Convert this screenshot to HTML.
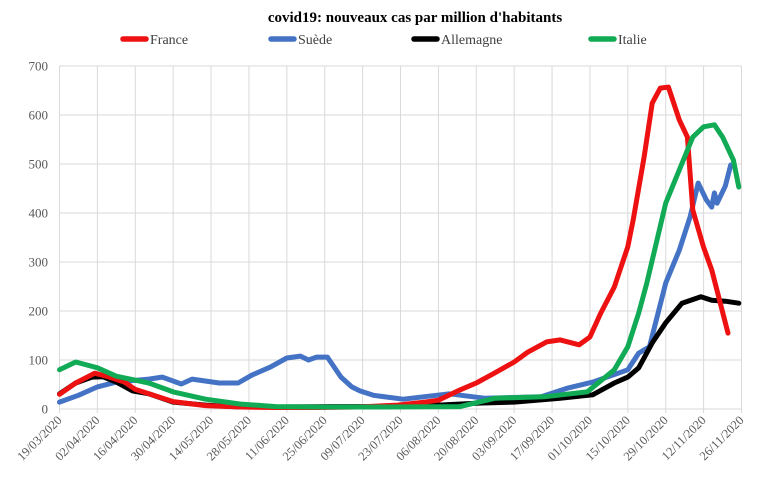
<!DOCTYPE html>
<html><head><meta charset="utf-8"><style>
body{margin:0;background:#fff;}
svg text{font-family:"Liberation Serif",serif;}
</style></head><body>
<svg id="chart" width="765" height="477" viewBox="0 0 765 477">
<text x="415" y="22" text-anchor="middle" font-size="15" font-weight="bold" fill="#000">covid19: nouveaux cas par million d'habitants</text>
<g id="grid"></g>
<g id="series"></g>
<g id="legend"></g>
</svg>
<script>
const xTickLabels=["19/03/2020","02/04/2020","16/04/2020","30/04/2020","14/05/2020","28/05/2020","11/06/2020","25/06/2020","09/07/2020","23/07/2020","06/08/2020","20/08/2020","03/09/2020","17/09/2020","01/10/2020","15/10/2020","29/10/2020","12/11/2020","26/11/2020"];
const yTicks=[0,100,200,300,400,500,600,700];
const seriesNames=["France","Suède","Allemagne","Italie"];
const seriesColors=["#ee1111","#4472c4","#000000","#11aa55"];
const franceDays=[0,6,13,18,24,28,33,42,54,67,80,95,110,125,135,140,148,154,160,168,173,180,185,192,196,200,205,210,212,216,219,222,225,229,232,234,238,241,244,247];
const franceVals=[30,53,73,66,55,40,31,15,7,4,3,3,4,8,14,18,39,53,71,96,116,137,141,131,147,196,249,331,386,514,624,655,657,590,555,406,330,284,220,155];
const swedeDays=[0,7,14,21,33,38,45,49,59,66,71,78,84,89,92,95,99,104,108,111,116,127,144,157,178,188,197,210,214,218,224,229,233,236,239,241,242,243,246,248];
const swedeVals=[14,28,45,55,61,65,51,61,53,53,69,86,104,108,100,106,106,65,45,37,28,20,31,22,25,43,55,80,114,127,257,324,392,461,427,412,441,420,455,498];
const germanyDays=[0,6,12,16,21,27,33,42,54,67,80,100,120,140,155,168,185,197,205,210,214,219,224,230,237,241,246,251];
const germanyVals=[31,53,65,66,55,37,31,14,8,4,4,5,5,8,12,14,22,29,53,65,84,135,176,216,229,222,220,216];
const italyDays=[0,6,14,21,33,42,54,67,80,95,120,148,161,179,195,205,210,214,217,224,229,234,238,242,245,249,251];
const italyVals=[80,96,84,67,53,35,20,10,5,4,4,5,22,25,35,80,127,196,257,420,488,555,576,580,555,508,453];

const X0=59.5, X1=741.5, Y0=409, YT=66, DAYMAX=252;
const xs=d=>X0+(X1-X0)*d/DAYMAX;
const ys=v=>Y0-(Y0-YT)*v/700;
const NS="http://www.w3.org/2000/svg";
function mk(tag,attrs,parent){const e=document.createElementNS(NS,tag);for(const k in attrs)e.setAttribute(k,attrs[k]);parent.appendChild(e);return e;}
const grid=document.getElementById('grid');
yTicks.forEach(v=>{
  const l=mk('line',{x1:X0,x2:X1,y1:ys(v),y2:ys(v),stroke:'#d9d9d9','stroke-width':1},grid);
  
  
  const t=mk('text',{x:48,y:ys(v)+4.5,'text-anchor':'end','font-size':13,fill:'#595959'},grid);
  t.textContent=v;
  
  
});
xTickLabels.forEach((lab,i)=>{
  const x=xs(i*14);
  const l=mk('line',{x1:x,x2:x,y1:YT,y2:Y0+4,stroke:'#d9d9d9','stroke-width':1},grid);
  
  
  const t=mk('text',{x:x+3,y:Y0+12,'text-anchor':'end','font-size':12.5,fill:'#595959',transform:`rotate(-45 ${x+3} ${Y0+12})`},grid);
  t.textContent=lab;
  
  
});
const sg=document.getElementById('series');
const data=[[franceDays,franceVals],[swedeDays,swedeVals],[germanyDays,germanyVals],[italyDays,italyVals]];
[1,2,0,3].forEach(i=>{
  const [d,v]=data[i];
  const pts=d.map((dd,j)=>xs(dd).toFixed(1)+','+ys(v[j]).toFixed(1)).join(' ');
  const p=mk('polyline',{points:pts,fill:'none',stroke:seriesColors[i],'stroke-width':5,'stroke-linejoin':'round','stroke-linecap':'round'},sg);
  
  
});
const lg=document.getElementById('legend');
const lx=[123,271,414,591];
seriesNames.forEach((n,i)=>{
  const l=mk('line',{x1:lx[i],x2:lx[i]+23,y1:39,y2:39,stroke:seriesColors[i],'stroke-width':5.5,'stroke-linecap':'round'},lg);
  
  
  const t=mk('text',{x:lx[i]+27,y:44,'font-size':14,fill:'#404040'},lg);
  t.textContent=n;
  
  
});
</script>
</body></html>
